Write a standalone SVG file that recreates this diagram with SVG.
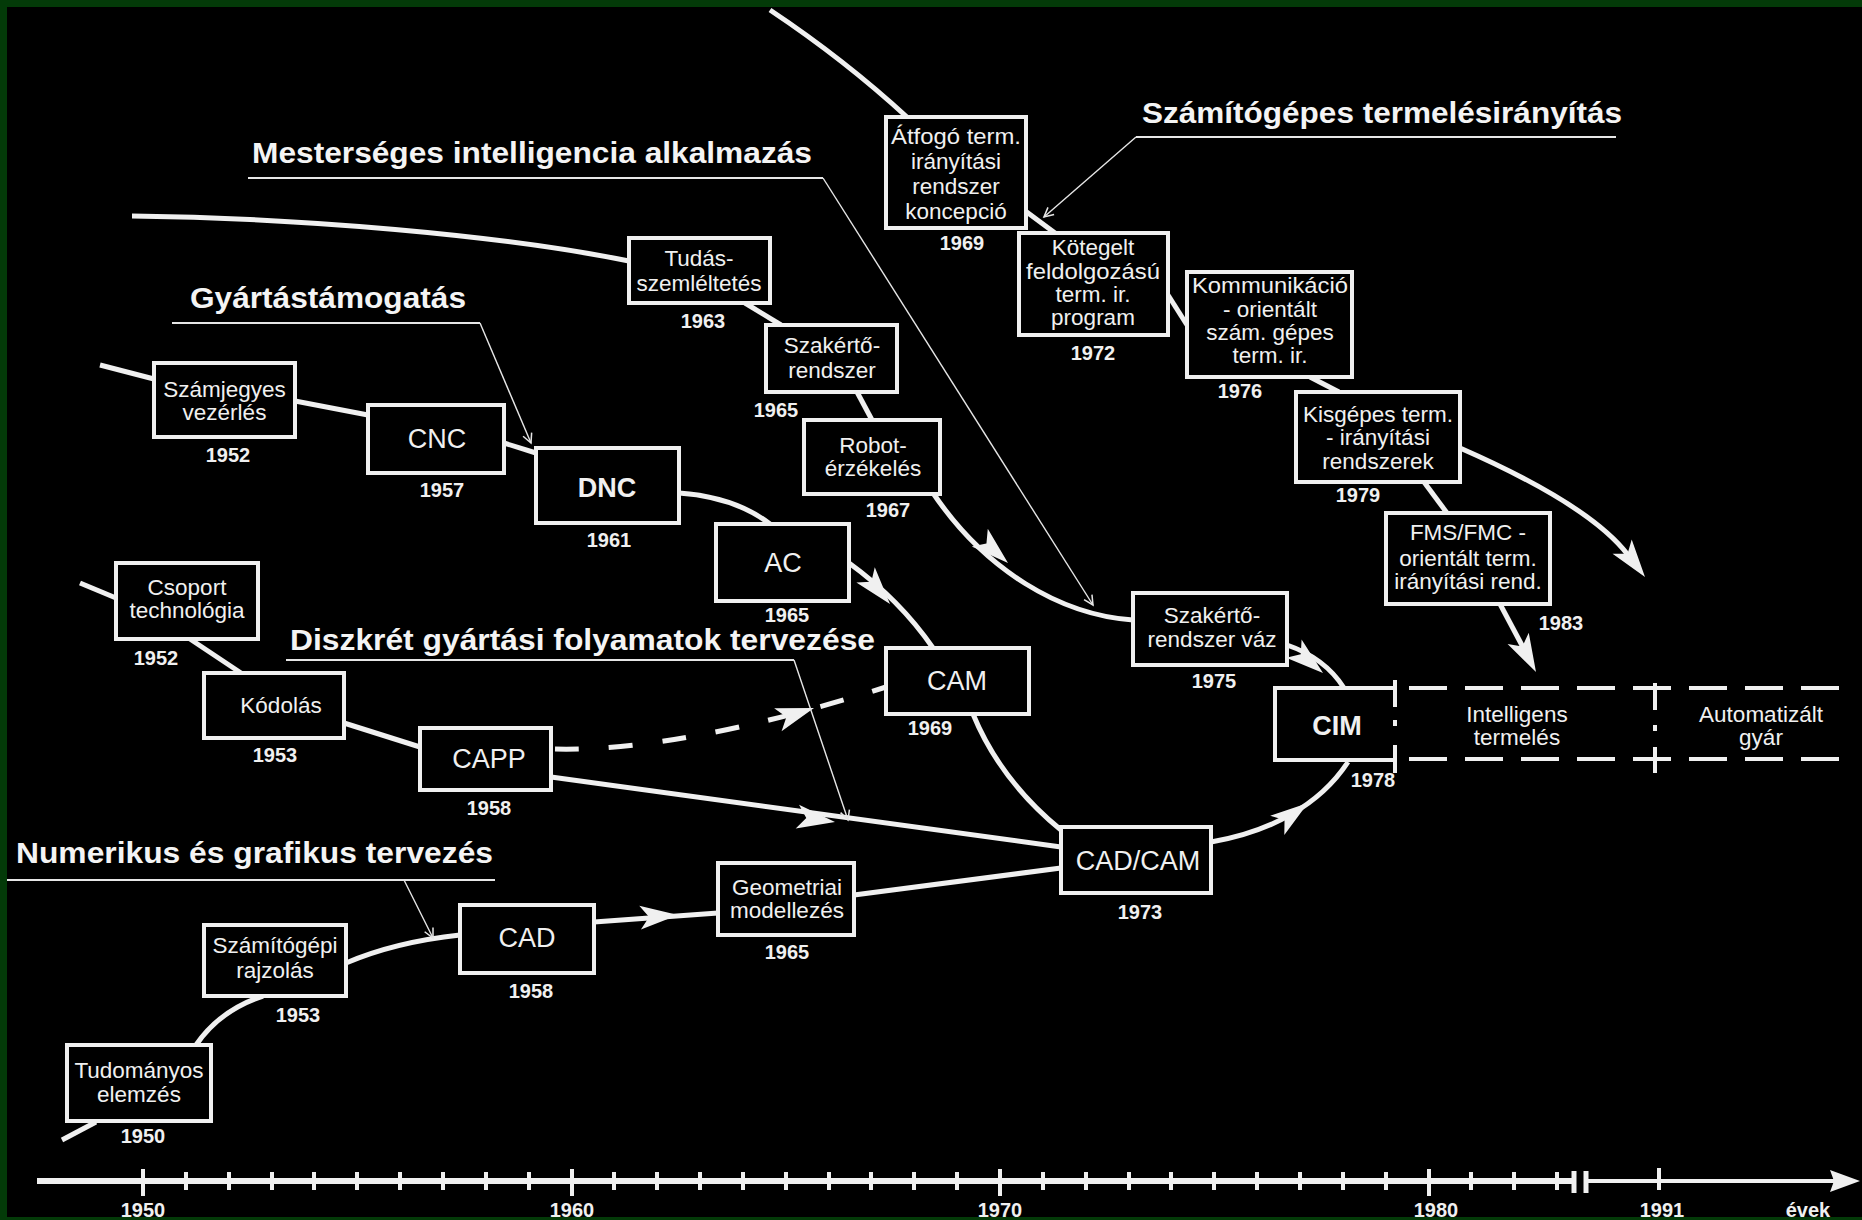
<svg xmlns="http://www.w3.org/2000/svg" xmlns:xlink="http://www.w3.org/1999/xlink" width="1862" height="1220" viewBox="0 0 1862 1220">
  <style>
    .box { fill:#000; stroke:#f0f0f0; stroke-width:4; }
    .lbl { font-family:"Liberation Sans", Arial, sans-serif; font-size:22.5px; fill:#f0f0f0; text-anchor:middle; }
    .big { font-size:27px; }
    .bold { font-weight:bold; }
    .yr { font-family:"Liberation Sans", Arial, sans-serif; font-size:20px; font-weight:bold; fill:#f0f0f0; text-anchor:middle; }
    .ttl { font-family:"Liberation Sans", Arial, sans-serif; font-size:29px; font-weight:bold; fill:#f4f4f4; }
    .wire { fill:none; stroke:#f0f0f0; stroke-width:5; }
    .dash { stroke-dasharray:24 30; }
    .lead { fill:none; stroke:#e6e6e6; stroke-width:1.4; }
    .uline { fill:none; stroke:#e6e6e6; stroke-width:2.2; }
    .ah { fill:#f0f0f0; }
    .sep { fill:none; stroke:#f0f0f0; stroke-width:4; }
    .tick { fill:none; stroke:#f0f0f0; stroke-width:4; }
  </style>
  <defs>
    <path id="ah" d="M0,0 L-38,-12 L-29,0 L-38,12 Z"/>
    <marker id="tip" markerUnits="userSpaceOnUse" markerWidth="14" markerHeight="14" viewBox="-10 -6 12 12" refX="0" refY="0" orient="auto">
      <path d="M-8,-4 L0,0 L-8,4" fill="none" stroke="#e6e6e6" stroke-width="1.3"/>
    </marker>
  </defs>

  <!-- background and frame -->
  <rect x="0" y="0" width="1862" height="1220" fill="#000"/>
  <rect x="0" y="0" width="1862" height="7" fill="#033a08"/>
  <rect x="0" y="0" width="7" height="1220" fill="#033a08"/>

  <!-- connectors -->
  <g id="connectors">
    <!-- manufacturing support chain -->
    <path class="wire" d="M100,365 L154,379"/>
    <path class="wire" d="M295,401 L368,415"/>
    <path class="wire" d="M504,443 L536,453"/>
    <path class="wire" d="M679,493 Q735,497 770,524"/>
    <path class="wire" d="M849,563 Q900,600 933,648"/>
    <use href="#ah" class="ah" transform="translate(890,604) rotate(50)"/>
    <path class="wire" d="M973,714 Q1000,780 1061,830"/>

    <!-- discrete process planning chain -->
    <path class="wire" d="M80,583 L116,598"/>
    <path class="wire" d="M190,639 L241,673"/>
    <path class="wire" d="M344,723 L420,747"/>
    <path class="wire" d="M551,777 Q800,812 1061,847"/>
    <use href="#ah" class="ah" transform="translate(835,822) rotate(8)"/>
    <path class="wire dash" d="M555,749 Q680,752 886,687"/>
    <use href="#ah" class="ah" transform="translate(814,708) rotate(-18)"/>

    <!-- numerical and graphical design chain -->
    <path class="wire" d="M62,1140 L96,1122"/>
    <path class="wire" d="M196,1045 Q220,1010 263,996"/>
    <path class="wire" d="M346,963 Q395,942 460,935"/>
    <path class="wire" d="M594,922 Q650,918 718,913"/>
    <use href="#ah" class="ah" transform="translate(678,915) rotate(-4)"/>
    <path class="wire" d="M854,895 L1061,868"/>
    <path class="wire" d="M1211,842 C1270,832 1320,805 1348,762"/>
    <use href="#ah" class="ah" transform="translate(1308,803) rotate(-36)"/>

    <!-- artificial intelligence chain -->
    <path class="wire" d="M132,216 C300,218 500,235 629,261"/>
    <path class="wire" d="M745,303 L781,325"/>
    <path class="wire" d="M857,392 L872,420"/>
    <path class="wire" d="M933,493 C985,570 1060,615 1133,620"/>
    <use href="#ah" class="ah" transform="translate(1008,563) rotate(42)"/>
    <path class="wire" d="M1287,645 Q1325,658 1344,688"/>
    <use href="#ah" class="ah" transform="translate(1323,673) rotate(40)"/>

    <!-- production control chain -->
    <path class="wire" d="M770,10 Q845,60 908,118"/>
    <path class="wire" d="M1024,210 L1055,233"/>
    <path class="wire" d="M1168,295 L1187,325"/>
    <path class="wire" d="M1310,377 L1339,392"/>
    <path class="wire" d="M1424,482 L1447,513"/>
    <path class="wire" d="M1460,448 Q1590,505 1628,555"/>
    <use href="#ah" class="ah" transform="translate(1645,577) rotate(53)"/>
    <path class="wire" d="M1500,604 L1525,651"/>
    <use href="#ah" class="ah" transform="translate(1536,672) rotate(62)"/>
  </g>

  <!-- leader lines from the track titles -->
  <g id="leaders">
    <path class="uline" d="M248,178 H823"/>
    <path class="lead" d="M823,178 L1093,605" marker-end="url(#tip)"/>
    <path class="uline" d="M172,323 H480"/>
    <path class="lead" d="M480,323 L531,443" marker-end="url(#tip)"/>
    <path class="uline" d="M1136,137 H1616"/>
    <path class="lead" d="M1136,137 L1044,217" marker-end="url(#tip)"/>
    <path class="uline" d="M286,660 H794"/>
    <path class="lead" d="M794,660 L848,820" marker-end="url(#tip)"/>
    <path class="uline" d="M7,880 H495"/>
    <path class="lead" d="M404,880 L433,938" marker-end="url(#tip)"/>
  </g>

  <!-- track titles -->
  <g id="title-mi"><text class="ttl" x="252" y="163" textLength="560" lengthAdjust="spacingAndGlyphs">Mesterséges intelligencia alkalmazás</text></g>
  <g id="title-gyartas"><text class="ttl" x="190" y="308" textLength="276" lengthAdjust="spacingAndGlyphs">Gyártástámogatás</text></g>
  <g id="title-termeles"><text class="ttl" x="1142" y="123" textLength="480" lengthAdjust="spacingAndGlyphs">Számítógépes termelésirányítás</text></g>
  <g id="title-diszkret"><text class="ttl" x="290" y="650" textLength="585" lengthAdjust="spacingAndGlyphs">Diszkrét gyártási folyamatok tervezése</text></g>
  <g id="title-numerikus"><text class="ttl" x="16" y="863" textLength="477" lengthAdjust="spacingAndGlyphs">Numerikus és grafikus tervezés</text></g>

  <!-- manufacturing support nodes -->
  <g id="n-szamjegyes">
    <rect class="box" x="154" y="363" width="141" height="74"/>
    <text class="lbl" x="224.5" y="397">Számjegyes</text>
    <text class="lbl" x="224.5" y="420">vezérlés</text>
    <text class="yr" x="228" y="462">1952</text>
  </g>
  <g id="n-cnc">
    <rect class="box" x="368" y="405" width="136" height="68"/>
    <text class="lbl big" x="437" y="448">CNC</text>
    <text class="yr" x="442" y="497">1957</text>
  </g>
  <g id="n-dnc">
    <rect class="box" x="536" y="448" width="143" height="75"/>
    <text class="lbl big bold" x="607" y="497">DNC</text>
    <text class="yr" x="609" y="547">1961</text>
  </g>
  <g id="n-ac">
    <rect class="box" x="716" y="524" width="133" height="77"/>
    <text class="lbl big" x="783" y="572">AC</text>
    <text class="yr" x="787" y="622">1965</text>
  </g>
  <g id="n-cam">
    <rect class="box" x="886" y="648" width="143" height="66"/>
    <text class="lbl big" x="957" y="690">CAM</text>
    <text class="yr" x="930" y="735">1969</text>
  </g>

  <!-- discrete process planning nodes -->
  <g id="n-csoport">
    <rect class="box" x="116" y="563" width="142" height="76"/>
    <text class="lbl" x="187" y="595">Csoport</text>
    <text class="lbl" x="187" y="618">technológia</text>
    <text class="yr" x="156" y="665">1952</text>
  </g>
  <g id="n-kodolas">
    <rect class="box" x="204" y="673" width="140" height="65"/>
    <text class="lbl" x="281" y="713">Kódolás</text>
    <text class="yr" x="275" y="762">1953</text>
  </g>
  <g id="n-capp">
    <rect class="box" x="420" y="728" width="131" height="62"/>
    <text class="lbl big" x="489" y="768">CAPP</text>
    <text class="yr" x="489" y="815">1958</text>
  </g>

  <!-- numerical and graphical design nodes -->
  <g id="n-tudomanyos">
    <rect class="box" x="67" y="1045" width="144" height="76"/>
    <text class="lbl" x="139" y="1078">Tudományos</text>
    <text class="lbl" x="139" y="1102">elemzés</text>
    <text class="yr" x="143" y="1143">1950</text>
  </g>
  <g id="n-rajzolas">
    <rect class="box" x="204" y="925" width="142" height="71"/>
    <text class="lbl" x="275" y="953">Számítógépi</text>
    <text class="lbl" x="275" y="978">rajzolás</text>
    <text class="yr" x="298" y="1022">1953</text>
  </g>
  <g id="n-cad">
    <rect class="box" x="460" y="905" width="134" height="68"/>
    <text class="lbl big" x="527" y="947">CAD</text>
    <text class="yr" x="531" y="998">1958</text>
  </g>
  <g id="n-geometriai">
    <rect class="box" x="718" y="863" width="136" height="72"/>
    <text class="lbl" x="787" y="895">Geometriai</text>
    <text class="lbl" x="787" y="918">modellezés</text>
    <text class="yr" x="787" y="959">1965</text>
  </g>
  <g id="n-cadcam">
    <rect class="box" x="1061" y="827" width="150" height="66"/>
    <text class="lbl big" x="1138" y="870">CAD/CAM</text>
    <text class="yr" x="1140" y="919">1973</text>
  </g>

  <!-- artificial intelligence nodes -->
  <g id="n-tudas">
    <rect class="box" x="629" y="238" width="141" height="65"/>
    <text class="lbl" x="699" y="266">Tudás-</text>
    <text class="lbl" x="699" y="291">szemléltetés</text>
    <text class="yr" x="703" y="328">1963</text>
  </g>
  <g id="n-szakerto">
    <rect class="box" x="766" y="325" width="131" height="67"/>
    <text class="lbl" x="832" y="353">Szakértő-</text>
    <text class="lbl" x="832" y="378">rendszer</text>
    <text class="yr" x="776" y="417">1965</text>
  </g>
  <g id="n-robot">
    <rect class="box" x="804" y="420" width="136" height="74"/>
    <text class="lbl" x="873" y="453">Robot-</text>
    <text class="lbl" x="873" y="476">érzékelés</text>
    <text class="yr" x="888" y="517">1967</text>
  </g>
  <g id="n-szakerto-vaz">
    <rect class="box" x="1133" y="593" width="154" height="72"/>
    <text class="lbl" x="1212" y="623">Szakértő-</text>
    <text class="lbl" x="1212" y="647">rendszer váz</text>
    <text class="yr" x="1214" y="688">1975</text>
  </g>

  <!-- production control nodes -->
  <g id="n-atfogo">
    <rect class="box" x="886" y="117" width="140" height="111"/>
    <text class="lbl" x="956" y="144" textLength="130" lengthAdjust="spacingAndGlyphs">Átfogó term.</text>
    <text class="lbl" x="956" y="169">irányítási</text>
    <text class="lbl" x="956" y="194">rendszer</text>
    <text class="lbl" x="956" y="219">koncepció</text>
    <text class="yr" x="962" y="250">1969</text>
  </g>
  <g id="n-kotegelt">
    <rect class="box" x="1019" y="233" width="149" height="102"/>
    <text class="lbl" x="1093" y="255">Kötegelt</text>
    <text class="lbl" x="1093" y="279" textLength="134" lengthAdjust="spacingAndGlyphs">feldolgozású</text>
    <text class="lbl" x="1093" y="302">term. ir.</text>
    <text class="lbl" x="1093" y="325">program</text>
    <text class="yr" x="1093" y="360">1972</text>
  </g>
  <g id="n-kommunikacio">
    <rect class="box" x="1187" y="272" width="165" height="105"/>
    <text class="lbl" x="1270" y="293" textLength="156" lengthAdjust="spacingAndGlyphs">Kommunikáció</text>
    <text class="lbl" x="1270" y="317">- orientált</text>
    <text class="lbl" x="1270" y="340">szám. gépes</text>
    <text class="lbl" x="1270" y="363">term. ir.</text>
    <text class="yr" x="1240" y="398">1976</text>
  </g>
  <g id="n-kisgepes">
    <rect class="box" x="1296" y="392" width="164" height="90"/>
    <text class="lbl" x="1378" y="422">Kisgépes term.</text>
    <text class="lbl" x="1378" y="445">- irányítási</text>
    <text class="lbl" x="1378" y="469">rendszerek</text>
    <text class="yr" x="1358" y="502">1979</text>
  </g>
  <g id="n-fms">
    <rect class="box" x="1386" y="513" width="164" height="91"/>
    <text class="lbl" x="1468" y="540">FMS/FMC -</text>
    <text class="lbl" x="1468" y="566">orientált term.</text>
    <text class="lbl" x="1468" y="589">irányítási rend.</text>
    <text class="yr" x="1561" y="630">1983</text>
  </g>

  <!-- CIM and the following stages -->
  <g id="n-cim">
    <path class="box" d="M1395,688 H1275 V760 H1395"/>
    <text class="lbl big bold" x="1337" y="735">CIM</text>
    <text class="yr" x="1373" y="787">1978</text>
  </g>
  <g id="n-stages">
    <path class="sep" d="M1395,680 V707 M1395,745 V773 M1655,683 V710 M1655,747 V773"/>
    <rect x="1393" y="720" width="4" height="6" fill="#f0f0f0"/>
    <rect x="1653" y="725" width="4" height="6" fill="#f0f0f0"/>
    <path class="sep" d="M1409,688 H1839 M1409,759 H1839" stroke-dasharray="38 18"/>
    <text class="lbl" x="1517" y="722">Intelligens</text>
    <text class="lbl" x="1517" y="745">termelés</text>
    <text class="lbl" x="1761" y="722">Automatizált</text>
    <text class="lbl" x="1761" y="745">gyár</text>
  </g>

  <!-- time axis -->
  <g id="axis">
    <path fill="none" stroke="#f0f0f0" stroke-width="6" d="M37,1181 H1574"/>
    <path fill="none" stroke="#f0f0f0" stroke-width="4" d="M1585,1181 H1836"/>
    <polygon fill="#f0f0f0" points="1830,1170 1860,1181 1830,1192 1834,1181"/>
    <path class="tick" d="M143,1169V1196 M572,1169V1196 M1000,1169V1196 M1429,1169V1196"/>
    <path class="tick" d="M186,1172V1190 M229,1172V1190 M272,1172V1190 M314,1172V1190 M357,1172V1190 M400,1172V1190 M443,1172V1190 M486,1172V1190 M529,1172V1190 M614,1172V1190 M657,1172V1190 M700,1172V1190 M743,1172V1190 M786,1172V1190 M829,1172V1190 M871,1172V1190 M914,1172V1190 M957,1172V1190 M1043,1172V1190 M1086,1172V1190 M1129,1172V1190 M1171,1172V1190 M1214,1172V1190 M1257,1172V1190 M1300,1172V1190 M1343,1172V1190 M1386,1172V1190 M1471,1172V1190 M1514,1172V1190 M1557,1172V1190"/>
    <path fill="none" stroke="#f0f0f0" stroke-width="5" d="M1574,1171V1193 M1586,1171V1193"/>
    <path class="tick" d="M1659,1168V1190"/>
    <text class="yr" x="143" y="1217">1950</text>
    <text class="yr" x="572" y="1217">1960</text>
    <text class="yr" x="1000" y="1217">1970</text>
    <text class="yr" x="1436" y="1217">1980</text>
    <text class="yr" x="1662" y="1217">1991</text>
    <text class="yr" x="1808" y="1217">évek</text>
  </g>

  <rect x="0" y="1217" width="1862" height="3" fill="#033a08"/>
</svg>
